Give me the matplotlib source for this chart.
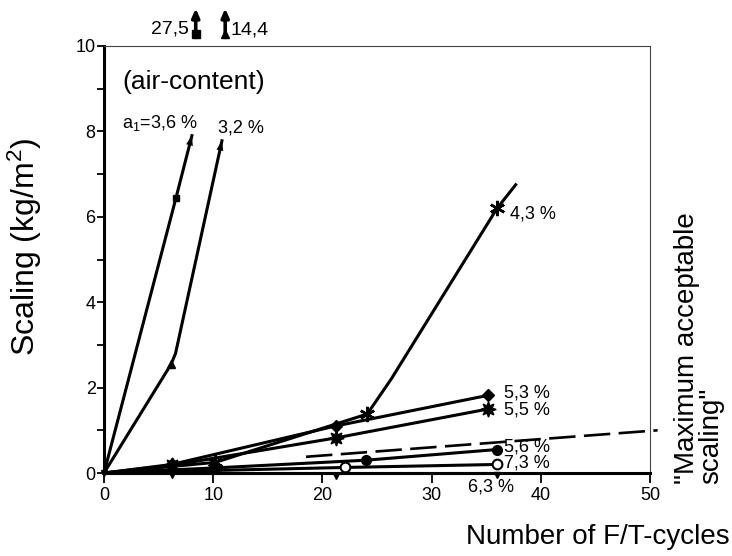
import matplotlib
matplotlib.use('Agg')
import matplotlib.pyplot as plt
from matplotlib.ticker import MultipleLocator

plt.rcParams['font.family'] = ['Liberation Sans', 'DejaVu Sans']
plt.rcParams['mathtext.fontset'] = 'custom'
plt.rcParams['mathtext.rm'] = 'Liberation Sans'
plt.rcParams['mathtext.it'] = 'Liberation Sans:italic'

# ---- data ----
cycles_36 = [0, 6.6, 8.05]
scal_36 = [0, 6.45, 7.9]
cycles_32 = [0, 6.15, 6.55, 10.8]
scal_32 = [0, 2.55, 2.8, 7.78]
cycles_43 = [0, 10.2, 24.1, 26.3, 36.0, 37.7]
scal_43 = [0, 0.25, 1.38, 2.2, 6.2, 6.75]
cycles_53 = [0, 6.2, 21.2, 35.2]
scal_53 = [0, 0.2, 1.1, 1.82]
cycles_55 = [0, 6.2, 21.2, 35.2]
scal_55 = [0, 0.18, 0.82, 1.5]
cycles_56 = [0, 10.2, 24.0, 36.0]
scal_56 = [0, 0.12, 0.3, 0.55]
cycles_73 = [0, 22.1, 36.0]
scal_73 = [0, 0.13, 0.2]
cycles_63 = [0, 6.2, 21.2, 36.0]
scal_63 = [0, -0.05, -0.06, -0.04]
limit_cycles = [18.5, 50.7]
limit_scal = [0.38, 1.0]
offscale_values = ["27,5", "14,4"]
air_labels = ["a$_\\mathregular{1}$=3,6 %", "3,2 %", "4,3 %", "5,3 %", "5,5 %", "5,6 %", "7,3 %", "6,3 %"]

fig = plt.figure(figsize=(7.32, 5.56), dpi=100)
ax = fig.add_axes([104/732, 1-473/556, 546/732, 427/556])
ax.set_xlim(0, 50)
ax.set_ylim(0, 10)

lw = 2.2
k = 'black'
ax.plot(cycles_36, scal_36, color=k, lw=lw, marker='s', ms=5, markevery=[1], clip_on=False)
ax.plot(cycles_32, scal_32, color=k, lw=lw, marker='^', ms=6, markevery=[1], clip_on=False)
ax.plot(cycles_43, scal_43, color=k, lw=lw, marker=(6, 2, 0), ms=11, mew=1.8, markevery=[1, 2, 4], clip_on=False)
ax.plot(cycles_53, scal_53, color=k, lw=lw, marker='D', ms=6, markevery=[1, 2, 3], clip_on=False)
ax.plot(cycles_55, scal_55, color=k, lw=lw, marker=(8, 1, 0), ms=11, markevery=[1, 2, 3], clip_on=False)
ax.plot(cycles_56, scal_56, color=k, lw=lw, marker='o', ms=7, markevery=[1, 2, 3], clip_on=False)
ax.plot(cycles_73, scal_73, color=k, lw=lw, marker='o', ms=7, mfc='white', mew=1.5, markevery=[1, 2], clip_on=False)
ax.plot(cycles_63, [0]*len(cycles_63), color=k, lw=lw, clip_on=False)
ax.plot(cycles_63, scal_63, ls='none', color=k, marker='v', ms=5, clip_on=False)
lim_line, = ax.plot(limit_cycles, limit_scal, color=k, lw=1.9, clip_on=False)
lim_line.set_dashes((10, 3.2))

# arrow heads on the steep series
for cx, cy in [(cycles_36, scal_36), (cycles_32, scal_32)]:
    ax.annotate('', xy=(cx[-1], cy[-1]), xytext=(cx[-2], cy[-2]),
                arrowprops=dict(arrowstyle='-|>,head_length=0.7,head_width=0.25', color=k, lw=0,
                                shrinkA=0, shrinkB=0), annotation_clip=False)

# off-scale arrows above the frame
off_x = [cycles_36[-1] + 0.35, cycles_32[-1] + 0.3]
off_mark = ['s', '^']
for i, (xv, txt) in enumerate(zip(off_x, offscale_values)):
    ax.annotate('', xy=(xv, 10.88), xytext=(xv, 10.2),
                arrowprops=dict(arrowstyle='-|>,head_length=0.5,head_width=0.22', color=k, lw=2.6,
                                shrinkA=0, shrinkB=0), annotation_clip=False)
    ax.plot([xv], [10.27], marker=off_mark[i], ms=6, color=k, clip_on=False)
    if i == 0:
        ax.text(xv - 0.6, 10.4, txt, ha='right', va='center', fontsize=14)
    else:
        ax.text(xv + 0.5, 10.38, txt, ha='left', va='center', fontsize=14)

# series labels
fs = 13
ax.annotate(air_labels[0], xy=(cycles_36[-1], scal_36[-1]), xytext=(-50, 9), textcoords='offset points',
            ha='left', va='center', fontsize=fs)
ax.annotate(air_labels[1], xy=(cycles_32[-1], scal_32[-1]), xytext=(-3, 9), textcoords='offset points',
            ha='left', va='center', fontsize=fs)
ax.annotate(air_labels[2], xy=(cycles_43[4], scal_43[4]), xytext=(9, -4), textcoords='offset points',
            ha='left', va='center', fontsize=fs)
ax.annotate(air_labels[3], xy=(cycles_53[-1], scal_53[-1]), xytext=(11, 2), textcoords='offset points',
            ha='left', va='center', fontsize=fs)
ax.annotate(air_labels[4], xy=(cycles_55[-1], scal_55[-1]), xytext=(11, -1), textcoords='offset points',
            ha='left', va='center', fontsize=fs)
ax.annotate(air_labels[5], xy=(cycles_56[-1], scal_56[-1]), xytext=(5, 2), textcoords='offset points',
            ha='left', va='center', fontsize=fs)
ax.annotate(air_labels[6], xy=(cycles_73[-1], scal_73[-1]), xytext=(5, 1), textcoords='offset points',
            ha='left', va='center', fontsize=fs)
ax.annotate(air_labels[7], xy=(cycles_63[-1], 0), xytext=(-21, -10), textcoords='offset points',
            ha='left', va='center', fontsize=fs)

ax.text(0.033, 0.916, '(air-content)', transform=ax.transAxes, ha='left', va='center', fontsize=19)

# axes styling
for s in ['left', 'bottom']:
    ax.spines[s].set_linewidth(2.2)
for s in ['top', 'right']:
    ax.spines[s].set_linewidth(0.8)
    ax.spines[s].set_color('#444444')
ax.xaxis.set_major_locator(MultipleLocator(10))
ax.yaxis.set_major_locator(MultipleLocator(2))
ax.yaxis.set_minor_locator(MultipleLocator(1))
ax.tick_params(axis='y', which='both', direction='out', length=5, width=1.3, labelsize=13, pad=1)
ax.tick_params(axis='x', which='major', direction='out', length=7, width=1.3, labelsize=13, pad=3)
ax.tick_params(top=False, right=False)

fig.text(25/732, 1-247/556, 'Scaling (kg/m$^\\mathregular{2}$)', rotation=90, ha='center', va='center', fontsize=23)
fig.text(730/732, 1-537/556, 'Number of F/T-cycles', ha='right', va='center', fontsize=20)
ax.text(1.09, -0.025, '"Maximum acceptable\nscaling"', transform=ax.transAxes, rotation=90,
        ha='center', va='bottom', multialignment='left', fontsize=20, linespacing=0.95)

fig.savefig('out.png', dpi=100)
